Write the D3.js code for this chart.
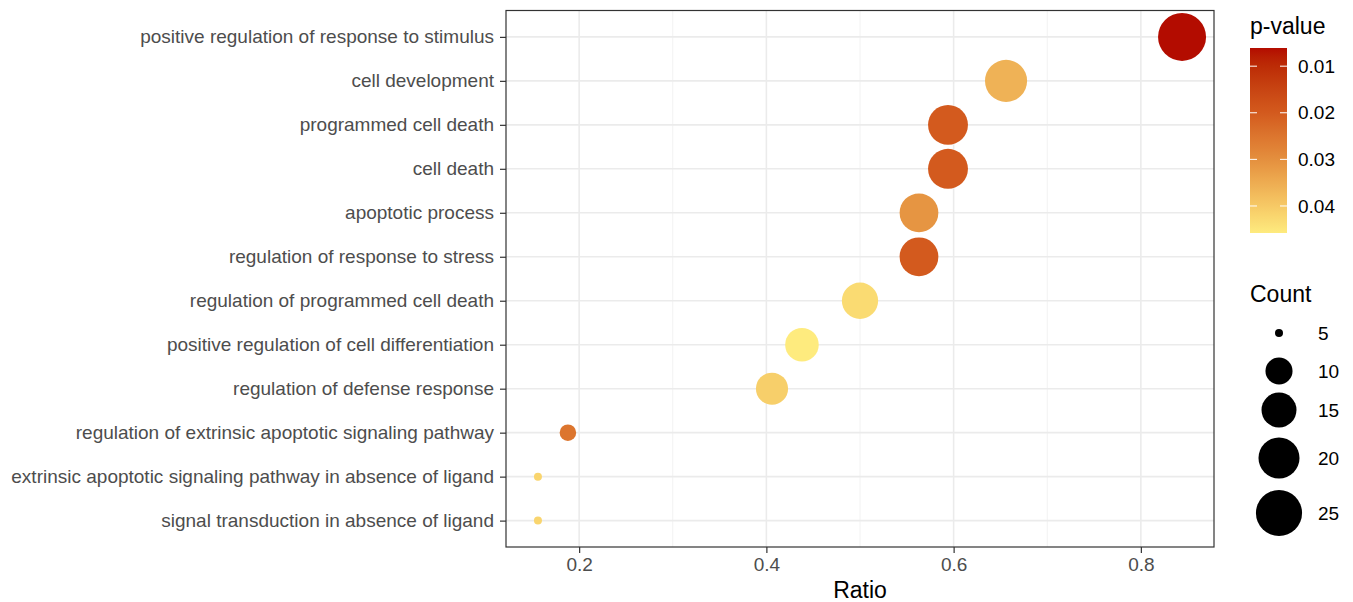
<!DOCTYPE html>
<html>
<head>
<meta charset="utf-8">
<script src="https://cdn.jsdelivr.net/npm/d3@7"></script>
<style>
  html, body { margin: 0; padding: 0; background: #fff; }
  svg { display: block; font-family: "Liberation Sans", Arial, sans-serif; }
</style>
</head>
<body>
<svg id="chart" width="1353" height="602"></svg>
<script>
// ---- data ----
const terms = [
  "positive regulation of response to stimulus",
  "cell development",
  "programmed cell death",
  "cell death",
  "apoptotic process",
  "regulation of response to stress",
  "regulation of programmed cell death",
  "positive regulation of cell differentiation",
  "regulation of defense response",
  "regulation of extrinsic apoptotic signaling pathway",
  "extrinsic apoptotic signaling pathway in absence of ligand",
  "signal transduction in absence of ligand"
];
const ratios = [0.844, 0.656, 0.594, 0.594, 0.563, 0.563, 0.500, 0.438, 0.406, 0.188, 0.156, 0.156];
const counts = [27, 21, 19, 19, 18, 18, 16, 14, 13, 6, 5, 5];
const pvalues = [0.0061, 0.036, 0.020, 0.020, 0.031, 0.020, 0.043, 0.0458, 0.041, 0.025, 0.042, 0.042];
const xTicks = [0.2, 0.4, 0.6, 0.8];
const xMinorTicks = [0.3, 0.5, 0.7];
const pTicks = [0.01, 0.02, 0.03, 0.04];
const countBreaks = [5, 10, 15, 20, 25];
const colorStops = [0.0061, 0.020, 0.030, 0.0458];
const colorStopValues = ["#B30C00", "#D35A1E", "#E48F3E", "#FEEB7E"];

// ---- layout ----
const svg = d3.select("#chart");
const panel = { left: 506, right: 1214, top: 10.5, bottom: 547 };

const x = d3.scaleLinear().domain([0.121875, 0.878125]).range([panel.left, panel.right]);
const y = d3.scalePoint().domain(terms).range([panel.top, panel.bottom]).padding(0.6);
const r = d3.scaleSqrt().domain([0, 22]).range([4, 24]);
const radius = c => r(c - 5);
const color = d3.scaleLinear().domain(colorStops).range(colorStopValues).interpolate(d3.interpolateLab).clamp(true);

// panel background
svg.append("rect").attr("x", panel.left).attr("y", panel.top)
  .attr("width", panel.right - panel.left).attr("height", panel.bottom - panel.top)
  .attr("fill", "#fff");

// minor grid
svg.append("g").selectAll("line").data(xMinorTicks).join("line")
  .attr("x1", d => x(d)).attr("x2", d => x(d))
  .attr("y1", panel.top).attr("y2", panel.bottom)
  .attr("stroke", "#F2F2F2").attr("stroke-width", 1);

// major grid
svg.append("g").selectAll("line").data(xTicks).join("line")
  .attr("x1", d => x(d)).attr("x2", d => x(d))
  .attr("y1", panel.top).attr("y2", panel.bottom)
  .attr("stroke", "#EBEBEB").attr("stroke-width", 1.6);
svg.append("g").selectAll("line").data(terms).join("line")
  .attr("x1", panel.left).attr("x2", panel.right)
  .attr("y1", d => y(d)).attr("y2", d => y(d))
  .attr("stroke", "#EBEBEB").attr("stroke-width", 1.6);

// points
svg.append("g").selectAll("circle").data(terms).join("circle")
  .attr("cx", (d, i) => x(ratios[i]))
  .attr("cy", d => y(d))
  .attr("r", (d, i) => radius(counts[i]))
  .attr("fill", (d, i) => color(pvalues[i]));

// panel border
svg.append("rect").attr("x", panel.left).attr("y", panel.top)
  .attr("width", panel.right - panel.left).attr("height", panel.bottom - panel.top)
  .attr("fill", "none").attr("stroke", "#333").attr("stroke-width", 1.2);

// axes
const xAxis = svg.append("g").attr("transform", `translate(0,${panel.bottom})`)
  .call(d3.axisBottom(x).tickValues(xTicks).tickSize(6).tickPadding(5).tickFormat(d3.format(".1f")));
xAxis.select(".domain").remove();
xAxis.selectAll("line").attr("stroke", "#333").attr("stroke-width", 1.2);
xAxis.selectAll("text").attr("fill", "#4D4D4D").style("font-size", "19px");

const yAxis = svg.append("g").attr("transform", `translate(${panel.left},0)`)
  .call(d3.axisLeft(y).tickSize(6).tickPadding(6));
yAxis.select(".domain").remove();
yAxis.selectAll("line").attr("stroke", "#333").attr("stroke-width", 1.2);
yAxis.selectAll("text").attr("fill", "#4D4D4D").style("font-size", "19px");

// axis title
svg.append("text").attr("x", (panel.left + panel.right) / 2).attr("y", 598)
  .attr("text-anchor", "middle").attr("fill", "#000").style("font-size", "23px").text("Ratio");

// ---- colour legend ----
const cb = { x: 1250, w: 37, top: 48, bottom: 233 };
svg.append("text").attr("x", 1250).attr("y", 34).attr("fill", "#000").style("font-size", "23px").text("p-value");
const pScale = d3.scaleLinear().domain([colorStops[0], colorStops[colorStops.length - 1]]).range([cb.top, cb.bottom]);
const defs = svg.append("defs");
const grad = defs.append("linearGradient").attr("id", "pgrad").attr("x1", 0).attr("y1", 0).attr("x2", 0).attr("y2", 1);
d3.range(0, 1.0001, 0.05).forEach(t => {
  const pv = pScale.invert(cb.top + t * (cb.bottom - cb.top));
  grad.append("stop").attr("offset", t).attr("stop-color", color(pv));
});
svg.append("rect").attr("x", cb.x).attr("y", cb.top).attr("width", cb.w).attr("height", cb.bottom - cb.top)
  .attr("fill", "url(#pgrad)");
const cbTicks = svg.append("g");
pTicks.forEach(p => {
  const yy = pScale(p);
  cbTicks.append("line").attr("x1", cb.x).attr("x2", cb.x + 7).attr("y1", yy).attr("y2", yy)
    .attr("stroke", "#fff").attr("stroke-width", 1);
  cbTicks.append("line").attr("x1", cb.x + cb.w - 7).attr("x2", cb.x + cb.w).attr("y1", yy).attr("y2", yy)
    .attr("stroke", "#fff").attr("stroke-width", 1);
  cbTicks.append("text").attr("x", cb.x + cb.w + 11).attr("y", yy).attr("dy", "0.35em")
    .attr("fill", "#000").style("font-size", "19px").text(d3.format(".2f")(p));
});

// ---- size legend ----
svg.append("text").attr("x", 1250).attr("y", 302).attr("fill", "#000").style("font-size", "23px").text("Count");
const sizeY = d3.scaleOrdinal().domain(countBreaks).range([333, 371, 410, 458, 513]);
const sl = svg.append("g");
countBreaks.forEach(c => {
  sl.append("circle").attr("cx", 1279).attr("cy", sizeY(c)).attr("r", radius(c)).attr("fill", "#000");
  sl.append("text").attr("x", 1318).attr("y", sizeY(c)).attr("dy", "0.35em")
    .attr("fill", "#000").style("font-size", "19px").text(c);
});
</script>
</body>
</html>
